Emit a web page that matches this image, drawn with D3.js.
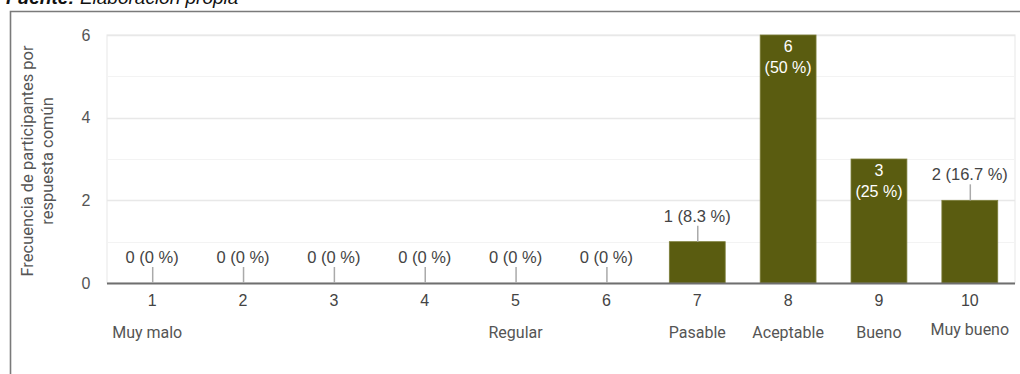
<!DOCTYPE html>
<html>
<head>
<meta charset="utf-8">
<script src="https://cdn.jsdelivr.net/npm/d3@7"></script>
<style>
  html, body { margin: 0; padding: 0; background: #fff; }
  svg { display: block; }
</style>
</head>
<body>
<svg id="chart" width="1020" height="374"></svg>
<script>
// Ratings 1..10, with the verbal anchors printed under some of them
const categories = ["1", "2", "3", "4", "5", "6", "7", "8", "9", "10"];
const anchorLabels = ["Muy malo", "", "", "", "Regular", "", "Pasable", "Aceptable", "Bueno", "Muy bueno"];
const counts = [0, 0, 0, 0, 0, 0, 1, 6, 3, 2];
const percents = ["0 %", "0 %", "0 %", "0 %", "0 %", "0 %", "8.3 %", "50 %", "25 %", "16.7 %"];
const yTicks = [0, 2, 4, 6];
const yMinorTicks = [1, 3, 5];
const yTitle = ["Frecuencia de participantes por", "respuesta común"];

const svg = d3.select("#chart");
const W = 1020, H = 374;
const plot = { left: 107, right: 1015, top: 35, bottom: 283 };

// Source caption, partly cut off by the top edge
svg.append("text")
  .attr("x", 6).attr("y", 4)
  .attr("font-family", "Liberation Sans, Arial, sans-serif")
  .attr("font-size", 19).attr("font-style", "italic").attr("fill", "#111")
  .call(t => {
    t.append("tspan").attr("font-weight", "bold").text("Fuente: ");
    t.append("tspan").text("Elaboración propia");
  });

// Outer frame (top and left edges visible)
svg.append("path")
  .attr("d", `M10.5,${H} V11.5 H${W}`)
  .attr("fill", "none").attr("stroke", "#7a7a7a").attr("stroke-width", 1.6);

const x = d3.scaleBand().domain(categories)
  .range([plot.left, plot.right]).paddingInner(0.385).paddingOuter(0.19);
const y = d3.scaleLinear().domain([0, 6]).range([plot.bottom, plot.top]);

// Plot background border and gridlines
svg.append("rect")
  .attr("x", plot.left).attr("y", plot.top)
  .attr("width", plot.right - plot.left).attr("height", plot.bottom - plot.top)
  .attr("fill", "none").attr("stroke", "#ececec").attr("stroke-width", 1.2);

svg.append("g").selectAll("line").data(yMinorTicks).join("line")
  .attr("x1", plot.left).attr("x2", plot.right)
  .attr("y1", d => Math.round(y(d)) + 0.5).attr("y2", d => Math.round(y(d)) + 0.5)
  .attr("stroke", "#f3f3f3").attr("stroke-width", 1);
svg.append("g").selectAll("line").data(yTicks.filter(d => d > 0)).join("line")
  .attr("x1", plot.left).attr("x2", plot.right)
  .attr("y1", d => Math.round(y(d)) + 0.5).attr("y2", d => Math.round(y(d)) + 0.5)
  .attr("stroke", "#e8e8e8").attr("stroke-width", 1.3);

// Y tick labels
svg.append("g").selectAll("text").data(yTicks).join("text")
  .attr("x", 86).attr("y", d => y(d) + 5.5)
  .attr("text-anchor", "middle")
  .attr("font-family", "Liberation Sans, Arial, sans-serif")
  .attr("font-size", 16).attr("fill", "#555")
  .text(d => d);

// Y axis title (two lines, rotated)
const yt = svg.append("text")
  .attr("transform", `translate(0,${(plot.top + plot.bottom) / 2 + 2}) rotate(-90)`)
  .attr("text-anchor", "middle")
  .attr("font-family", "Roboto, 'Noto Sans', sans-serif")
  .attr("font-size", 16.5).attr("fill", "#555");
yt.selectAll("tspan").data(yTitle).join("tspan")
  .attr("x", 0).attr("y", (d, i) => 33 + i * 20)
  .text(d => d);

// Bars
const barColor = "#5a5c10";
svg.append("g").selectAll("rect").data(counts).join("rect")
  .attr("x", (d, i) => x(categories[i]))
  .attr("y", d => y(d))
  .attr("width", x.bandwidth())
  .attr("height", d => y(0) - y(d))
  .attr("fill", barColor)
  .attr("stroke", "#7c7e3a").attr("stroke-width", d => d > 0 ? 0.8 : 0);

// Baseline
svg.append("line")
  .attr("x1", plot.left).attr("x2", plot.right)
  .attr("y1", y(0) + 0.5).attr("y2", y(0) + 0.5)
  .attr("stroke", "#6f6f6f").attr("stroke-width", 2);

// Value labels: inside tall bars, above short ones with a leader line
const labelFont = "Liberation Sans, Arial, sans-serif";
counts.forEach((c, i) => {
  const cx = x(categories[i]) + x.bandwidth() / 2;
  const top = y(c);
  if (c >= 3) {
    svg.append("text").attr("x", cx).attr("y", top + 17)
      .attr("text-anchor", "middle").attr("font-family", labelFont)
      .attr("font-size", 16).attr("fill", "#fff").text(c);
    svg.append("text").attr("x", cx).attr("y", top + 38)
      .attr("text-anchor", "middle").attr("font-family", labelFont)
      .attr("font-size", 16).attr("fill", "#fff").text(`(${percents[i]})`);
  } else {
    svg.append("line")
      .attr("x1", cx + 0.5).attr("x2", cx + 0.5)
      .attr("y1", top - 16).attr("y2", top)
      .attr("stroke", "#aaa").attr("stroke-width", 1.5);
    svg.append("text").attr("x", cx).attr("y", top - 20)
      .attr("text-anchor", "middle").attr("font-family", labelFont)
      .attr("font-size", 16.5).attr("fill", "#444")
      .text(`${c} (${percents[i]})`);
  }
});

// X tick labels and verbal anchors
svg.append("g").selectAll("text").data(categories).join("text")
  .attr("x", d => x(d) + x.bandwidth() / 2)
  .attr("y", 306)
  .attr("text-anchor", "middle")
  .attr("font-family", labelFont)
  .attr("font-size", 16).attr("fill", "#444")
  .text(d => d);

svg.append("g").selectAll("text").data(anchorLabels).join("text")
  .attr("x", (d, i) => x(categories[i]) + x.bandwidth() / 2 - (i === 0 ? 5 : 0))
  .attr("y", (d, i) => i === 9 ? 335 : 338)
  .attr("text-anchor", "middle")
  .attr("font-family", "Roboto, 'Noto Sans', sans-serif")
  .attr("font-size", 16).attr("fill", "#555")
  .text(d => d);
</script>
</body>
</html>
